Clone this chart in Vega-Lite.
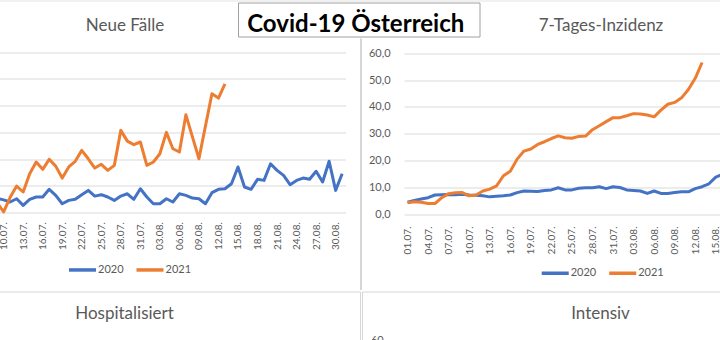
{
  "$schema": "https://vega.github.io/schema/vega-lite/v6.json",
  "background": "#ffffff",
  "padding": {"left": -126, "top": 0.5, "right": 0, "bottom": 0},
  "config": {
    "font": "Lato",
    "locale": {"number": {"decimal": ",", "thousands": ".", "grouping": [3], "currency": ["", " €"]}},
    "view": {"stroke": null},
    "axis": {"labelColor": "#595959", "title": null, "ticks": false, "domain": false},
    "title": {"font": "Lato", "fontSize": 17, "fontWeight": "normal", "color": "#595959", "anchor": "middle", "frame": "group", "baseline": "alphabetic", "offset": 0},
    "legend": {"orient": "none", "direction": "horizontal", "title": null, "symbolType": "stroke", "symbolSize": 729, "symbolStrokeWidth": 3.5, "labelFontSize": 11, "labelColor": "#595959", "labelOffset": 0, "columnPadding": 5.5, "padding": 0}
  },
  "datasets": {
    "faelle": [
      {"Tag": "09.07.", "Jahr": "2020", "Wert": 80}, {"Tag": "10.07.", "Jahr": "2020", "Wert": 72}, {"Tag": "11.07.", "Jahr": "2020", "Wert": 60}, {"Tag": "12.07.", "Jahr": "2020", "Wert": 78}, {"Tag": "13.07.", "Jahr": "2020", "Wert": 41}, {"Tag": "14.07.", "Jahr": "2020", "Wert": 75}, {"Tag": "15.07.", "Jahr": "2020", "Wert": 88}, {"Tag": "16.07.", "Jahr": "2020", "Wert": 88}, {"Tag": "17.07.", "Jahr": "2020", "Wert": 131}, {"Tag": "18.07.", "Jahr": "2020", "Wert": 97}, {"Tag": "19.07.", "Jahr": "2020", "Wert": 50}, {"Tag": "20.07.", "Jahr": "2020", "Wert": 69}, {"Tag": "21.07.", "Jahr": "2020", "Wert": 75}, {"Tag": "22.07.", "Jahr": "2020", "Wert": 101}, {"Tag": "23.07.", "Jahr": "2020", "Wert": 125}, {"Tag": "24.07.", "Jahr": "2020", "Wert": 93}, {"Tag": "25.07.", "Jahr": "2020", "Wert": 101}, {"Tag": "26.07.", "Jahr": "2020", "Wert": 88}, {"Tag": "27.07.", "Jahr": "2020", "Wert": 69}, {"Tag": "28.07.", "Jahr": "2020", "Wert": 93}, {"Tag": "29.07.", "Jahr": "2020", "Wert": 106}, {"Tag": "30.07.", "Jahr": "2020", "Wert": 75}, {"Tag": "31.07.", "Jahr": "2020", "Wert": 134},
      {"Tag": "01.08.", "Jahr": "2020", "Wert": 88}, {"Tag": "02.08.", "Jahr": "2020", "Wert": 50}, {"Tag": "03.08.", "Jahr": "2020", "Wert": 50}, {"Tag": "04.08.", "Jahr": "2020", "Wert": 78}, {"Tag": "05.08.", "Jahr": "2020", "Wert": 60}, {"Tag": "06.08.", "Jahr": "2020", "Wert": 106}, {"Tag": "07.08.", "Jahr": "2020", "Wert": 97}, {"Tag": "08.08.", "Jahr": "2020", "Wert": 82}, {"Tag": "09.08.", "Jahr": "2020", "Wert": 78}, {"Tag": "10.08.", "Jahr": "2020", "Wert": 50}, {"Tag": "11.08.", "Jahr": "2020", "Wert": 112}, {"Tag": "12.08.", "Jahr": "2020", "Wert": 131}, {"Tag": "13.08.", "Jahr": "2020", "Wert": 134}, {"Tag": "14.08.", "Jahr": "2020", "Wert": 162}, {"Tag": "15.08.", "Jahr": "2020", "Wert": 256}, {"Tag": "16.08.", "Jahr": "2020", "Wert": 144}, {"Tag": "17.08.", "Jahr": "2020", "Wert": 131}, {"Tag": "18.08.", "Jahr": "2020", "Wert": 187}, {"Tag": "19.08.", "Jahr": "2020", "Wert": 181}, {"Tag": "20.08.", "Jahr": "2020", "Wert": 274}, {"Tag": "21.08.", "Jahr": "2020", "Wert": 237}, {"Tag": "22.08.", "Jahr": "2020", "Wert": 209}, {"Tag": "23.08.", "Jahr": "2020", "Wert": 157}, {"Tag": "24.08.", "Jahr": "2020", "Wert": 181}, {"Tag": "25.08.", "Jahr": "2020", "Wert": 194}, {"Tag": "26.08.", "Jahr": "2020", "Wert": 187}, {"Tag": "27.08.", "Jahr": "2020", "Wert": 232}, {"Tag": "28.08.", "Jahr": "2020", "Wert": 172}, {"Tag": "29.08.", "Jahr": "2020", "Wert": 288}, {"Tag": "30.08.", "Jahr": "2020", "Wert": 125}, {"Tag": "31.08.", "Jahr": "2020", "Wert": 218},
      {"Tag": "09.07.", "Jahr": "2021", "Wert": 55}, {"Tag": "10.07.", "Jahr": "2021", "Wert": 5}, {"Tag": "11.07.", "Jahr": "2021", "Wert": 86}, {"Tag": "12.07.", "Jahr": "2021", "Wert": 149}, {"Tag": "13.07.", "Jahr": "2021", "Wert": 116}, {"Tag": "14.07.", "Jahr": "2021", "Wert": 218}, {"Tag": "15.07.", "Jahr": "2021", "Wert": 284}, {"Tag": "16.07.", "Jahr": "2021", "Wert": 243}, {"Tag": "17.07.", "Jahr": "2021", "Wert": 299}, {"Tag": "18.07.", "Jahr": "2021", "Wert": 261}, {"Tag": "19.07.", "Jahr": "2021", "Wert": 194}, {"Tag": "20.07.", "Jahr": "2021", "Wert": 256}, {"Tag": "21.07.", "Jahr": "2021", "Wert": 288}, {"Tag": "22.07.", "Jahr": "2021", "Wert": 349}, {"Tag": "23.07.", "Jahr": "2021", "Wert": 302}, {"Tag": "24.07.", "Jahr": "2021", "Wert": 250}, {"Tag": "25.07.", "Jahr": "2021", "Wert": 271}, {"Tag": "26.07.", "Jahr": "2021", "Wert": 237}, {"Tag": "27.07.", "Jahr": "2021", "Wert": 265}, {"Tag": "28.07.", "Jahr": "2021", "Wert": 461}, {"Tag": "29.07.", "Jahr": "2021", "Wert": 401}, {"Tag": "30.07.", "Jahr": "2021", "Wert": 381}, {"Tag": "31.07.", "Jahr": "2021", "Wert": 396},
      {"Tag": "01.08.", "Jahr": "2021", "Wert": 265}, {"Tag": "02.08.", "Jahr": "2021", "Wert": 284}, {"Tag": "03.08.", "Jahr": "2021", "Wert": 330}, {"Tag": "04.08.", "Jahr": "2021", "Wert": 450}, {"Tag": "05.08.", "Jahr": "2021", "Wert": 358}, {"Tag": "06.08.", "Jahr": "2021", "Wert": 340}, {"Tag": "07.08.", "Jahr": "2021", "Wert": 548}, {"Tag": "08.08.", "Jahr": "2021", "Wert": 425}, {"Tag": "09.08.", "Jahr": "2021", "Wert": 302}, {"Tag": "10.08.", "Jahr": "2021", "Wert": 485}, {"Tag": "11.08.", "Jahr": "2021", "Wert": 666}, {"Tag": "12.08.", "Jahr": "2021", "Wert": 642}, {"Tag": "13.08.", "Jahr": "2021", "Wert": 722}
    ],
    "inzidenz": [
      {"Tag": "01.07.", "Jahr": "2020", "Wert": 4.4}, {"Tag": "02.07.", "Jahr": "2020", "Wert": 5.1}, {"Tag": "03.07.", "Jahr": "2020", "Wert": 5.6}, {"Tag": "04.07.", "Jahr": "2020", "Wert": 6.1}, {"Tag": "05.07.", "Jahr": "2020", "Wert": 7.1}, {"Tag": "06.07.", "Jahr": "2020", "Wert": 7.2}, {"Tag": "07.07.", "Jahr": "2020", "Wert": 7.3}, {"Tag": "08.07.", "Jahr": "2020", "Wert": 7.2}, {"Tag": "09.07.", "Jahr": "2020", "Wert": 7.4}, {"Tag": "10.07.", "Jahr": "2020", "Wert": 7.1}, {"Tag": "11.07.", "Jahr": "2020", "Wert": 7.0}, {"Tag": "12.07.", "Jahr": "2020", "Wert": 6.8}, {"Tag": "13.07.", "Jahr": "2020", "Wert": 6.4}, {"Tag": "14.07.", "Jahr": "2020", "Wert": 6.6}, {"Tag": "15.07.", "Jahr": "2020", "Wert": 6.8}, {"Tag": "16.07.", "Jahr": "2020", "Wert": 7.1}, {"Tag": "17.07.", "Jahr": "2020", "Wert": 8.0}, {"Tag": "18.07.", "Jahr": "2020", "Wert": 8.6}, {"Tag": "19.07.", "Jahr": "2020", "Wert": 8.5}, {"Tag": "20.07.", "Jahr": "2020", "Wert": 8.4}, {"Tag": "21.07.", "Jahr": "2020", "Wert": 8.8}, {"Tag": "22.07.", "Jahr": "2020", "Wert": 9.0}, {"Tag": "23.07.", "Jahr": "2020", "Wert": 9.8}, {"Tag": "24.07.", "Jahr": "2020", "Wert": 9.0}, {"Tag": "25.07.", "Jahr": "2020", "Wert": 9.0}, {"Tag": "26.07.", "Jahr": "2020", "Wert": 9.6}, {"Tag": "27.07.", "Jahr": "2020", "Wert": 9.8}, {"Tag": "28.07.", "Jahr": "2020", "Wert": 9.8}, {"Tag": "29.07.", "Jahr": "2020", "Wert": 10.2}, {"Tag": "30.07.", "Jahr": "2020", "Wert": 9.5}, {"Tag": "31.07.", "Jahr": "2020", "Wert": 10.2},
      {"Tag": "01.08.", "Jahr": "2020", "Wert": 9.9}, {"Tag": "02.08.", "Jahr": "2020", "Wert": 9.0}, {"Tag": "03.08.", "Jahr": "2020", "Wert": 8.8}, {"Tag": "04.08.", "Jahr": "2020", "Wert": 8.6}, {"Tag": "05.08.", "Jahr": "2020", "Wert": 7.7}, {"Tag": "06.08.", "Jahr": "2020", "Wert": 8.6}, {"Tag": "07.08.", "Jahr": "2020", "Wert": 7.7}, {"Tag": "08.08.", "Jahr": "2020", "Wert": 7.7}, {"Tag": "09.08.", "Jahr": "2020", "Wert": 8.0}, {"Tag": "10.08.", "Jahr": "2020", "Wert": 8.3}, {"Tag": "11.08.", "Jahr": "2020", "Wert": 8.3}, {"Tag": "12.08.", "Jahr": "2020", "Wert": 9.5}, {"Tag": "13.08.", "Jahr": "2020", "Wert": 10.2}, {"Tag": "14.08.", "Jahr": "2020", "Wert": 11.3}, {"Tag": "15.08.", "Jahr": "2020", "Wert": 13.8}, {"Tag": "16.08.", "Jahr": "2020", "Wert": 14.8},
      {"Tag": "01.07.", "Jahr": "2021", "Wert": 4.2}, {"Tag": "02.07.", "Jahr": "2021", "Wert": 4.6}, {"Tag": "03.07.", "Jahr": "2021", "Wert": 4.4}, {"Tag": "04.07.", "Jahr": "2021", "Wert": 3.9}, {"Tag": "05.07.", "Jahr": "2021", "Wert": 3.9}, {"Tag": "06.07.", "Jahr": "2021", "Wert": 6.1}, {"Tag": "07.07.", "Jahr": "2021", "Wert": 7.6}, {"Tag": "08.07.", "Jahr": "2021", "Wert": 7.9}, {"Tag": "09.07.", "Jahr": "2021", "Wert": 8.0}, {"Tag": "10.07.", "Jahr": "2021", "Wert": 6.8}, {"Tag": "11.07.", "Jahr": "2021", "Wert": 7.1}, {"Tag": "12.07.", "Jahr": "2021", "Wert": 8.6}, {"Tag": "13.07.", "Jahr": "2021", "Wert": 9.3}, {"Tag": "14.07.", "Jahr": "2021", "Wert": 10.5}, {"Tag": "15.07.", "Jahr": "2021", "Wert": 14.3}, {"Tag": "16.07.", "Jahr": "2021", "Wert": 16.0}, {"Tag": "17.07.", "Jahr": "2021", "Wert": 20.5}, {"Tag": "18.07.", "Jahr": "2021", "Wert": 23.5}, {"Tag": "19.07.", "Jahr": "2021", "Wert": 24.3}, {"Tag": "20.07.", "Jahr": "2021", "Wert": 26.0}, {"Tag": "21.07.", "Jahr": "2021", "Wert": 27.0}, {"Tag": "22.07.", "Jahr": "2021", "Wert": 28.2}, {"Tag": "23.07.", "Jahr": "2021", "Wert": 29.2}, {"Tag": "24.07.", "Jahr": "2021", "Wert": 28.5}, {"Tag": "25.07.", "Jahr": "2021", "Wert": 28.3}, {"Tag": "26.07.", "Jahr": "2021", "Wert": 29.0}, {"Tag": "27.07.", "Jahr": "2021", "Wert": 29.1}, {"Tag": "28.07.", "Jahr": "2021", "Wert": 31.5}, {"Tag": "29.07.", "Jahr": "2021", "Wert": 33.0}, {"Tag": "30.07.", "Jahr": "2021", "Wert": 34.5}, {"Tag": "31.07.", "Jahr": "2021", "Wert": 36.0},
      {"Tag": "01.08.", "Jahr": "2021", "Wert": 36.0}, {"Tag": "02.08.", "Jahr": "2021", "Wert": 36.7}, {"Tag": "03.08.", "Jahr": "2021", "Wert": 37.5}, {"Tag": "04.08.", "Jahr": "2021", "Wert": 37.4}, {"Tag": "05.08.", "Jahr": "2021", "Wert": 37.0}, {"Tag": "06.08.", "Jahr": "2021", "Wert": 36.3}, {"Tag": "07.08.", "Jahr": "2021", "Wert": 38.8}, {"Tag": "08.08.", "Jahr": "2021", "Wert": 41.0}, {"Tag": "09.08.", "Jahr": "2021", "Wert": 41.7}, {"Tag": "10.08.", "Jahr": "2021", "Wert": 43.4}, {"Tag": "11.08.", "Jahr": "2021", "Wert": 46.5}, {"Tag": "12.08.", "Jahr": "2021", "Wert": 50.7}, {"Tag": "13.08.", "Jahr": "2021", "Wert": 56.6}
    ]
  },
  "resolve": {"scale": {"color": "independent"}},
  "spacing": 0,
  "vconcat": [
    {
      "width": 970, "height": 1,
      "view": {"fill": "#e3e3e3", "stroke": null},
      "data": {"values": []},
      "mark": {"type": "point"}
    },
    {
      "spacing": 0,
      "hconcat": [
        {
          "width": 362, "height": 35,
          "data": {"values": [{"t": "Neue Fälle"}]},
          "mark": {"type": "text", "font": "Lato", "fontSize": 17, "color": "#595959", "baseline": "alphabetic", "dx": 69, "dy": 10.7},
          "encoding": {"text": {"field": "t", "type": "nominal"}}
        },
        {
          "width": 241.5, "height": 34,
          "view": {"stroke": "#a0a0a0", "strokeWidth": 1, "fill": "#ffffff"},
          "data": {"values": [{"t": "Covid-19 Österreich"}]},
          "mark": {"type": "text", "font": "Lato", "fontWeight": "bold", "fontSize": 24, "color": "#000000", "baseline": "alphabetic", "dx": -3, "dy": 12.7},
          "encoding": {"text": {"field": "t", "type": "nominal"}}
        },
        {
          "width": 365.5, "height": 35,
          "data": {"values": [{"t": "7-Tages-Inzidenz"}]},
          "mark": {"type": "text", "font": "Lato", "fontSize": 17, "color": "#595959", "baseline": "alphabetic", "dx": -61.75, "dy": 10.7},
          "encoding": {"text": {"field": "t", "type": "nominal"}}
        }
      ]
    },
    {
      "resolve": {"scale": {"color": "independent"}},
      "spacing": 0,
      "hconcat": [
        {
          "width": 485, "height": 251.5,
          "data": {"name": "faelle"},
          "mark": {"type": "line", "strokeWidth": 3, "strokeJoin": "round"},
          "encoding": {
            "x": {"field": "Tag", "type": "ordinal",
              "scale": {"type": "point", "padding": 0.5, "range": [66.8, 470.4],
                "domain": ["01.07.","02.07.","03.07.","04.07.","05.07.","06.07.","07.07.","08.07.","09.07.","10.07.","11.07.","12.07.","13.07.","14.07.","15.07.","16.07.","17.07.","18.07.","19.07.","20.07.","21.07.","22.07.","23.07.","24.07.","25.07.","26.07.","27.07.","28.07.","29.07.","30.07.","31.07.","01.08.","02.08.","03.08.","04.08.","05.08.","06.08.","07.08.","08.08.","09.08.","10.08.","11.08.","12.08.","13.08.","14.08.","15.08.","16.08.","17.08.","18.08.","19.08.","20.08.","21.08.","22.08.","23.08.","24.08.","25.08.","26.08.","27.08.","28.08.","29.08.","30.08.","31.08."]},
              "axis": {"orient": "bottom", "offset": -77.3, "labelAngle": -90, "labelPadding": 9, "labelFontSize": 10, "grid": false,
                "values": ["10.07.","13.07.","16.07.","19.07.","22.07.","25.07.","28.07.","31.07.","03.08.","06.08.","09.08.","12.08.","15.08.","18.08.","21.08.","24.08.","27.08.","30.08."]}},
            "y": {"field": "Wert", "type": "quantitative",
              "scale": {"domain": [0, 900], "range": [174.2, 13.5], "nice": false},
              "axis": {"orient": "left", "offset": -66.8, "values": [0, 150, 300, 450, 600, 750, 900], "labels": false, "grid": true, "gridColor": "#d9d9d9"}},
            "color": {"field": "Jahr", "type": "nominal",
              "scale": {"domain": ["2020", "2021"], "range": ["#4472C4", "#ED7D31"]},
              "legend": {"legendX": 192, "legendY": 215.7}},
            "order": {"value": null}
          }
        },
        {
          "width": 2, "height": 251.5,
          "view": {"fill": "#d6d6d6", "stroke": null},
          "data": {"values": []},
          "mark": {"type": "point"}
        },
        {
          "width": 485, "height": 251.5,
          "data": {"name": "inzidenz"},
          "mark": {"type": "line", "strokeWidth": 3, "strokeJoin": "round"},
          "encoding": {
            "x": {"field": "Tag", "type": "ordinal",
              "scale": {"type": "point", "padding": 0.5, "range": [42.1, 466.8],
                "domain": ["01.07.","02.07.","03.07.","04.07.","05.07.","06.07.","07.07.","08.07.","09.07.","10.07.","11.07.","12.07.","13.07.","14.07.","15.07.","16.07.","17.07.","18.07.","19.07.","20.07.","21.07.","22.07.","23.07.","24.07.","25.07.","26.07.","27.07.","28.07.","29.07.","30.07.","31.07.","01.08.","02.08.","03.08.","04.08.","05.08.","06.08.","07.08.","08.08.","09.08.","10.08.","11.08.","12.08.","13.08.","14.08.","15.08.","16.08.","17.08.","18.08.","19.08.","20.08.","21.08.","22.08.","23.08.","24.08.","25.08.","26.08.","27.08.","28.08.","29.08.","30.08.","31.08."]},
              "axis": {"orient": "bottom", "offset": -76, "labelAngle": -90, "labelPadding": 12, "labelFontSize": 10, "grid": false,
                "values": ["01.07.","04.07.","07.07.","10.07.","13.07.","16.07.","19.07.","22.07.","25.07.","28.07.","31.07.","03.08.","06.08.","09.08.","12.08.","15.08."]}},
            "y": {"field": "Wert", "type": "quantitative",
              "scale": {"domain": [0, 60], "range": [175.5, 14.9], "nice": false},
              "axis": {"orient": "left", "offset": -42.1, "values": [0, 10, 20, 30, 40, 50, 60], "format": ".1f", "grid": true, "gridColor": "#d9d9d9", "labelPadding": 14, "labelFontSize": 11}},
            "color": {"field": "Jahr", "type": "nominal",
              "scale": {"domain": ["2020", "2021"], "range": ["#4472C4", "#ED7D31"]},
              "legend": {"legendX": 177.7, "legendY": 219}},
            "order": {"value": null}
          }
        }
      ]
    },
    {
      "spacing": 0,
      "hconcat": [
        {
          "width": 485, "height": 60,
          "view": {"stroke": "#d6d6d6", "strokeWidth": 1},
          "title": {"text": "Hospitalisiert", "dx": 7, "dy": 35.5},
          "data": {"values": []},
          "mark": {"type": "line"},
          "encoding": {
            "x": {"field": "Tag", "type": "quantitative", "scale": {"domain": [0, 1], "range": [59.5, 468.5], "nice": false}, "axis": null},
            "y": {"field": "Wert", "type": "quantitative", "scale": {"domain": [0, 60], "range": [209.1, 48.5], "nice": false},
              "axis": {"orient": "left", "offset": -59.5, "values": [60], "labels": false, "grid": true, "gridColor": "#d9d9d9"}}
          }
        },
        {
          "width": 485, "height": 60,
          "view": {"stroke": "#d6d6d6", "strokeWidth": 1},
          "title": {"text": "Intensiv", "dx": -4, "dy": 35.7},
          "data": {"values": []},
          "mark": {"type": "line"},
          "encoding": {
            "x": {"field": "Tag", "type": "quantitative", "scale": {"domain": [0, 1], "range": [31.2, 485], "nice": false}, "axis": null},
            "y": {"field": "Wert", "type": "quantitative", "scale": {"domain": [0, 60], "range": [209.1, 48.5], "nice": false},
              "axis": {"orient": "left", "offset": -31.2, "values": [60], "format": "d", "grid": true, "gridColor": "#d9d9d9", "labelPadding": 10, "labelFontSize": 11}}
          }
        }
      ]
    }
  ]
}
